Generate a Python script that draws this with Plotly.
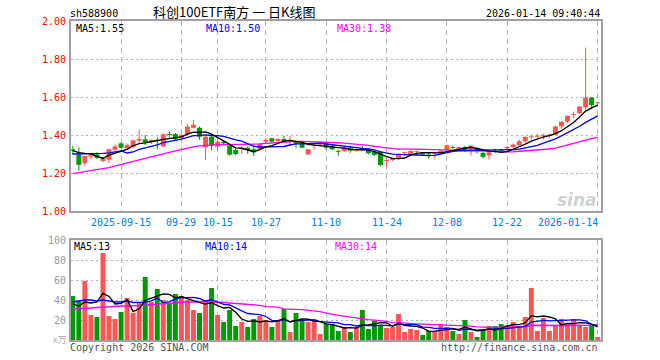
import plotly.graph_objects as go
import pandas as pd

# ---------------- data ----------------
opens = [1.325, 1.297, 1.251, 1.286, 1.298, 1.263, 1.270, 1.322, 1.356, 1.330,
         1.338, 1.370, 1.377, 1.362, 1.373, 1.340, 1.405, 1.405, 1.383, 1.405,
         1.438, 1.438, 1.335, 1.391, 1.338, 1.365, 1.345, 1.321, 1.325, 1.333,
         1.325, 1.325, 1.365, 1.383, 1.368, 1.379, 1.365, 1.364, 1.360, 1.298,
         1.343, 1.344, 1.356, 1.344, 1.317, 1.316, 1.333, 1.316, 1.330, 1.325,
         1.312, 1.312, 1.263, 1.268, 1.274, 1.305, 1.295, 1.312, 1.307, 1.303,
         1.298, 1.303, 1.323, 1.337, 1.323, 1.337, 1.315, 1.332, 1.306, 1.292,
         1.318, 1.320, 1.330, 1.336, 1.346, 1.367, 1.388, 1.391, 1.393, 1.397,
         1.402, 1.445, 1.470, 1.505, 1.515, 1.545, 1.597, 1.567]
highs = [1.342, 1.335, 1.291, 1.304, 1.309, 1.286, 1.326, 1.350, 1.360, 1.355,
         1.374, 1.426, 1.400, 1.378, 1.388, 1.408, 1.420, 1.410, 1.405, 1.458,
         1.479, 1.445, 1.395, 1.400, 1.370, 1.370, 1.350, 1.330, 1.339, 1.339,
         1.340, 1.356, 1.383, 1.385, 1.383, 1.395, 1.396, 1.367, 1.362, 1.325,
         1.356, 1.353, 1.358, 1.350, 1.321, 1.340, 1.344, 1.328, 1.344, 1.328,
         1.316, 1.316, 1.277, 1.280, 1.300, 1.312, 1.318, 1.316, 1.310, 1.305,
         1.307, 1.319, 1.350, 1.344, 1.340, 1.344, 1.344, 1.335, 1.310, 1.310,
         1.325, 1.327, 1.344, 1.355, 1.376, 1.393, 1.402, 1.407, 1.407, 1.407,
         1.450, 1.473, 1.503, 1.524, 1.553, 1.860, 1.597, 1.574]
lows = [1.295, 1.212, 1.237, 1.272, 1.272, 1.256, 1.251, 1.316, 1.330, 1.325,
        1.330, 1.356, 1.347, 1.352, 1.325, 1.335, 1.385, 1.372, 1.375, 1.400,
        1.435, 1.375, 1.268, 1.320, 1.317, 1.345, 1.291, 1.293, 1.300, 1.300,
        1.290, 1.322, 1.353, 1.357, 1.363, 1.362, 1.347, 1.330, 1.330, 1.295,
        1.325, 1.340, 1.323, 1.320, 1.291, 1.310, 1.306, 1.312, 1.316, 1.298,
        1.290, 1.235, 1.233, 1.262, 1.270, 1.290, 1.293, 1.295, 1.290, 1.275,
        1.272, 1.300, 1.320, 1.327, 1.320, 1.310, 1.292, 1.302, 1.276, 1.271,
        1.305, 1.310, 1.320, 1.327, 1.337, 1.358, 1.376, 1.379, 1.376, 1.384,
        1.397, 1.433, 1.463, 1.489, 1.510, 1.532, 1.536, 1.558]
closes = [1.318, 1.243, 1.290, 1.298, 1.281, 1.277, 1.325, 1.340, 1.333, 1.347,
          1.372, 1.379, 1.362, 1.374, 1.368, 1.404, 1.400, 1.377, 1.400, 1.444,
          1.454, 1.391, 1.391, 1.344, 1.365, 1.356, 1.297, 1.300, 1.333, 1.321,
          1.309, 1.353, 1.374, 1.365, 1.379, 1.365, 1.374, 1.355, 1.333, 1.325,
          1.347, 1.351, 1.333, 1.325, 1.312, 1.335, 1.317, 1.325, 1.321, 1.304,
          1.295, 1.242, 1.268, 1.277, 1.298, 1.310, 1.316, 1.316, 1.298, 1.298,
          1.303, 1.317, 1.346, 1.332, 1.336, 1.320, 1.344, 1.318, 1.285, 1.309,
          1.312, 1.317, 1.337, 1.350, 1.367, 1.390, 1.393, 1.397, 1.400, 1.402,
          1.445, 1.470, 1.501, 1.510, 1.550, 1.597, 1.557, 1.572]
volumes = [44, 39, 59, 25, 23, 87, 24, 21, 28, 42,
           27, 38, 63, 38, 51, 40, 36, 46, 44, 40,
           30, 27, 38, 52, 25, 18, 30, 14, 18, 13,
           21, 24, 20, 13, 19, 31, 8, 27, 20, 18,
           21, 6, 16, 16, 9, 13, 8, 13, 30, 11,
           19, 14, 12, 13, 26, 8, 11, 10, 5, 9,
           9, 16, 13, 9, 6, 20, 8, 3, 11, 14,
           14, 16, 15, 18, 14, 23, 52, 9, 22, 9,
           14, 21, 17, 21, 14, 13, 14, 3]

# moving-average values visible at the left edge (window starts before the chart)
ma5_head = [1.318, 1.307, 1.303, 1.302]
ma10_head = [1.300, 1.300, 1.300, 1.302, 1.303, 1.303, 1.306, 1.310, 1.316]
ma30_head = [1.197, 1.203, 1.209, 1.214, 1.218, 1.223, 1.228, 1.237, 1.246, 1.254,
             1.262, 1.269, 1.277, 1.284, 1.291, 1.299, 1.308, 1.317, 1.325, 1.332,
             1.338, 1.343, 1.346, 1.348, 1.349, 1.349, 1.349, 1.349, 1.349]
vma5_head = [36, 34, 38, 37]
vma10_head = [38, 39, 40, 40, 39, 40, 39, 38, 38]
vma30_head = [31, 31, 31.5, 32, 32.5, 33, 33, 33.5, 34, 34,
              34, 34.5, 35, 35.5, 36, 36, 36.5, 37, 37.5, 38,
              38, 38.5, 38.5, 38, 38, 37.5, 37, 36.5, 36]

tick_idx = [8, 18, 24, 32, 42, 52, 62, 72, 87]
tick_labels = ["2025-09-15", "09-29", "10-15", "10-27", "11-10",
               "11-24", "12-08", "12-22", "2026-01-14"]
price_ticks = [1.0, 1.2, 1.4, 1.6, 1.8, 2.0]
vol_ticks = [20, 40, 60, 80, 100]

code = "sh588900"
title = "科创100ETF南方 一 日K线图"
stamp = "2026-01-14 09:40:44"
ma_price_text = ["MA5:1.55", "MA10:1.50", "MA30:1.38"]
ma_vol_text = ["MA5:13", "MA10:14", "MA30:14"]

# ---------------- derived ----------------
def moving(vals, n, head):
    s = pd.Series(vals, dtype=float).rolling(n).mean().tolist()
    return list(head) + s[len(head):]

x = list(range(len(closes)))
ma5 = moving(closes, 5, ma5_head)
ma10 = moving(closes, 10, ma10_head)
ma30 = moving(closes, 30, ma30_head)
vma5 = moving(volumes, 5, vma5_head)
vma10 = moving(volumes, 10, vma10_head)
vma30 = moving(volumes, 30, vma30_head)

UP = "#ff5555"
DOWN = "#009900"
BLUE = "#0000ff"
MAG = "#ff00ff"
MONO = "DejaVu Sans Mono"
GRID = "#b4b4b4"
BORDER = "#a0a0a0"

colors = [UP if c >= o else DOWN for o, c in zip(opens, closes)]
body_base = [min(o, c) for o, c in zip(opens, closes)]
body_h = [max(abs(c - o), 0.005) for o, c in zip(opens, closes)]
wick_h = [h - l for h, l in zip(highs, lows)]

fig = go.Figure()
# wicks and bodies as bars on the price axis
fig.add_trace(go.Bar(x=x, y=wick_h, base=lows, width=0.17,
                     marker=dict(color=colors, line=dict(width=0)),
                     xaxis="x", yaxis="y", hoverinfo="skip"))
fig.add_trace(go.Bar(x=x, y=body_h, base=body_base, width=0.82,
                     marker=dict(color=colors, line=dict(width=0)),
                     xaxis="x", yaxis="y", hoverinfo="skip"))
for vals, col in [(ma30, MAG), (ma10, BLUE), (ma5, "#000000")]:
    fig.add_trace(go.Scatter(x=x, y=vals, mode="lines", line=dict(color=col, width=1.3),
                             xaxis="x", yaxis="y", hoverinfo="skip"))

fig.add_trace(go.Bar(x=x, y=volumes, marker=dict(color=colors, line=dict(width=0)),
                     width=0.82, xaxis="x2", yaxis="y2", hoverinfo="skip"))
for vals, col in [(vma30, MAG), (vma10, BLUE), (vma5, "#000000")]:
    fig.add_trace(go.Scatter(x=x, y=vals, mode="lines", line=dict(color=col, width=1.3),
                             xaxis="x2", yaxis="y2", hoverinfo="skip"))

H_TOP, H_BOT = 21, 340
span = H_BOT - H_TOP
def py(pix):
    return (H_BOT - pix) / span
L, R = 71, 601
def px(pix):
    return (pix - L) / (R - L)

xr = [-0.3, 87.55]
common_x = dict(range=xr, tickvals=tick_idx, showticklabels=False, showgrid=True,
                gridcolor=GRID, griddash="5px,4px", gridwidth=1, zeroline=False,
                showline=True, mirror=True, linecolor=BORDER, linewidth=2, ticks="",
                fixedrange=True)

fig.update_layout(
    width=660, height=360,
    margin=dict(l=L, r=660 - R, t=H_TOP, b=360 - H_BOT),
    paper_bgcolor="white", plot_bgcolor="white",
    showlegend=False, barmode="overlay",
    xaxis=dict(domain=[0, 1], anchor="y", **common_x),
    xaxis2=dict(domain=[0, 1], anchor="y2", **common_x),
    yaxis=dict(domain=[py(211), 1], range=[1.0, 2.0], tickvals=price_ticks,
               ticktext=["%.2f" % v for v in price_ticks],
               tickfont=dict(family=MONO, size=10, color="#ff0000"),
               showgrid=True, gridcolor=GRID, griddash="2px,3px", zeroline=False,
               showline=True, mirror=True, linecolor=BORDER, linewidth=2, ticks="",
               ticklabelstandoff=1, fixedrange=True),
    yaxis2=dict(domain=[0, py(240)], range=[0, 100], tickvals=vol_ticks,
                ticktext=[str(v) for v in vol_ticks],
                tickfont=dict(family=MONO, size=10, color="#999999"),
                showgrid=True, gridcolor=GRID, griddash="2px,3px", zeroline=False,
                showline=True, mirror=True, linecolor=BORDER, linewidth=2, ticks="",
                ticklabelstandoff=1, fixedrange=True),
)

ann = []
def add(text, xp, yp, color="#000000", xa="left", size=10, family=MONO, xref="paper", **kw):
    ann.append(dict(text=text, x=xp, y=yp, xref=xref, yref="paper", showarrow=False,
                    xanchor=xa, yanchor="middle", font=dict(family=family, size=size, color=color),
                    borderpad=0, **kw))

add(code, px(69), py(13), size=10)
add(title, px(234), py(12), xa="center", size=13, family="Noto Sans CJK SC")
add(stamp, px(601), py(13), xa="right", size=10)
add(ma_price_text[0], px(75), py(28))
add(ma_price_text[1], px(205), py(28), color=BLUE)
add(ma_price_text[2], px(336), py(28), color=MAG)
add(ma_vol_text[0], px(73), py(246))
add(ma_vol_text[1], px(204), py(246), color=BLUE)
add(ma_vol_text[2], px(334), py(246), color=MAG)
for i, (ti, tl) in enumerate(zip(tick_idx, tick_labels)):
    xa = "right" if i == len(tick_idx) - 1 else "center"
    xv = ti + 0.2 if xa == "right" else ti
    add(tl, xv, py(222), color="#0080d8", xa=xa, xref="x")
add("Copyright 2026 SINA.COM", px(69), py(347), color="#555555")
add("http://finance.sina.com.cn", px(599), py(347), color="#555555", xa="right")
add("x万", px(67), py(339), color="#aaaaaa", xa="right", size=9, family="Noto Sans CJK SC")
add("<b><i>sina</i></b>", px(598), py(200), color="rgba(150,150,150,0.45)", xa="right",
    size=17, family="DejaVu Sans")
fig.update_layout(annotations=ann)

fig.write_html("out.html", config={"displayModeBar": False, "staticPlot": True},
               post_script="document.body.style.margin='0';document.body.style.padding='0';")
